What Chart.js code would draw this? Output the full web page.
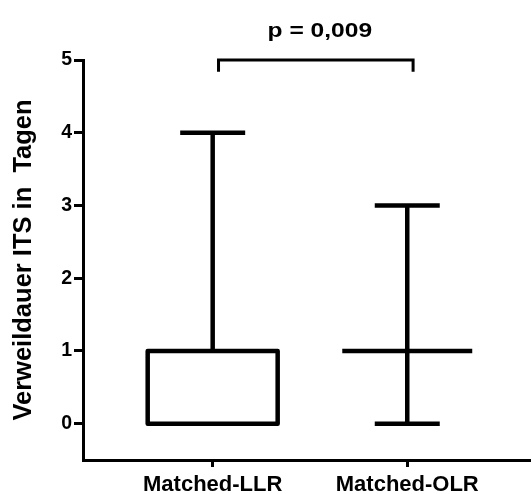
<!DOCTYPE html>
<html><head><meta charset="utf-8">
<script src="https://cdn.jsdelivr.net/npm/chart.js@4.4.1/dist/chart.umd.min.js"></script>
<style>html,body{margin:0;padding:0;background:#fff;}canvas{display:block;}</style>
</head><body>
<canvas id="c" width="531" height="494"></canvas>
<script>
// ---- data ----
const categories = ['Matched-LLR', 'Matched-OLR'];
const whiskerLow = [0, 0];
const quartile1 = [0, 1];
const medians = [0, 1];
const quartile3 = [1, 1];
const whiskerHigh = [4, 3];
const yTickValues = [0, 1, 2, 3, 4, 5];
const yAxisTitle = 'Verweildauer ITS in  Tagen';
const comparisonLabel = 'p = 0,009';
const comparisonPair = [0, 1];

// ---- style ----
const FONT = '"Liberation Sans", Arial, sans-serif';
const BOX_WIDTH = 0.668;   // in x-axis units
const CAP_WIDTH = 0.334;
const BRACKET_SHIFT = 0.03;
const BRACKET_DROP = 0.16;

const boxPlugin = {
  id: 'boxes',
  afterDraw(chart) {
    const {ctx, scales: {x, y}} = chart;
    ctx.save();
    ctx.strokeStyle = '#000';
    ctx.lineWidth = 4.5;
    ctx.lineJoin = 'round';
    ctx.lineCap = 'butt';
    categories.forEach((c, i) => {
      const v = i + 1;
      const xc = x.getPixelForValue(v);
      const bL = x.getPixelForValue(v - BOX_WIDTH / 2), bR = x.getPixelForValue(v + BOX_WIDTH / 2);
      const cL = x.getPixelForValue(v - CAP_WIDTH / 2), cR = x.getPixelForValue(v + CAP_WIDTH / 2);
      const yLo = y.getPixelForValue(whiskerLow[i]), yHi = y.getPixelForValue(whiskerHigh[i]);
      const yQ1 = y.getPixelForValue(quartile1[i]), yQ3 = y.getPixelForValue(quartile3[i]);
      const yMed = y.getPixelForValue(medians[i]);
      ctx.beginPath();
      if (whiskerHigh[i] > quartile3[i]) {
        ctx.moveTo(xc, yHi); ctx.lineTo(xc, yQ3);
        ctx.moveTo(cL, yHi); ctx.lineTo(cR, yHi);
      }
      if (whiskerLow[i] < quartile1[i]) {
        ctx.moveTo(xc, yQ1); ctx.lineTo(xc, yLo);
        ctx.moveTo(cL, yLo); ctx.lineTo(cR, yLo);
      }
      ctx.stroke();
      ctx.beginPath();
      if (yQ1 !== yQ3) {
        ctx.rect(bL, yQ3, bR - bL, yQ1 - yQ3);
      }
      ctx.moveTo(bL, yMed); ctx.lineTo(bR, yMed);
      ctx.stroke();
    });
    // significance bracket
    const x1 = x.getPixelForValue(comparisonPair[0] + 1 + BRACKET_SHIFT);
    const x2 = x.getPixelForValue(comparisonPair[1] + 1 + BRACKET_SHIFT);
    const yTop = y.getPixelForValue(yTickValues[yTickValues.length - 1]);
    const yDrop = y.getPixelForValue(yTickValues[yTickValues.length - 1] - BRACKET_DROP);
    ctx.lineWidth = 3;
    ctx.lineJoin = 'miter';
    ctx.beginPath();
    ctx.moveTo(x1, yDrop); ctx.lineTo(x1, yTop); ctx.lineTo(x2, yTop); ctx.lineTo(x2, yDrop);
    ctx.stroke();
    ctx.fillStyle = '#000';
    ctx.font = 'bold 21px ' + FONT;
    ctx.textAlign = 'center';
    ctx.textBaseline = 'alphabetic';
    ctx.translate((x1 + x2) / 2 + 4, yTop - 23);
    ctx.scale(1.17, 1);
    ctx.fillText(comparisonLabel, 0, 0);
    ctx.restore();
  }
};

new Chart(document.getElementById('c'), {
  type: 'scatter',
  data: {
    datasets: [{
      data: categories.map((c, i) => ({x: i + 1, y: medians[i]})),
      pointRadius: 0
    }]
  },
  options: {
    responsive: false,
    devicePixelRatio: 1,
    animation: false,
    layout: {padding: {top: 60, left: 0, right: 0, bottom: 0}},
    plugins: {legend: {display: false}, tooltip: {enabled: false}},
    scales: {
      x: {
        type: 'linear', min: 0.3335, max: 2.636,
        afterBuildTicks: s => { s.ticks = categories.map((c, i) => ({value: i + 1})); },
        afterFit: s => { s.height = 34; },
        grid: {drawOnChartArea: false, drawTicks: true, tickLength: 7, lineWidth: 3, color: '#000'},
        border: {display: true, color: '#000', width: 3},
        ticks: {autoSkip: false, maxRotation: 0, padding: 5, color: '#000',
          font: {family: FONT, size: 22, weight: 'bold'},
          callback: (v, i) => categories[i]}
      },
      y: {
        type: 'linear', min: -0.5, max: 5,
        afterBuildTicks: s => { s.ticks = yTickValues.map(v => ({value: v})); },
        afterFit: s => { s.width = 83; },
        grid: {drawOnChartArea: false, drawTicks: true, tickLength: 9, lineWidth: 3, color: '#000'},
        border: {display: true, color: '#000', width: 3},
        ticks: {padding: 2, color: '#000', font: {family: FONT, size: 19.5, weight: 'bold'},
          callback: v => String(v)},
        title: {display: true, text: yAxisTitle, color: '#000',
          font: {family: FONT, size: 25.5, weight: 'bold'}, padding: {top: 9, bottom: 0}}
      }
    }
  },
  plugins: [boxPlugin]
});
</script>
</body></html>
